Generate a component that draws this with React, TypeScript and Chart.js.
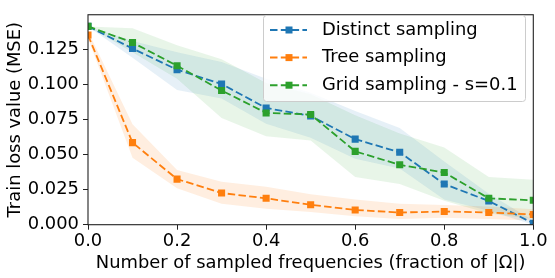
import React, { useEffect, useRef } from "react";
import { Chart, registerables } from "chart.js";

Chart.register(...registerables);

const fractions = [0, 0.1, 0.2, 0.3, 0.4, 0.5, 0.6, 0.7, 0.8, 0.9, 1.0];

const distinctMean = [0.1414, 0.1256, 0.1105, 0.1003, 0.0832, 0.0776, 0.061, 0.0516, 0.029, 0.0169, 0.001];
const distinctUpper = [0.1414, 0.131, 0.123, 0.116, 0.104, 0.094, 0.081, 0.069, 0.045, 0.022, 0.003];
const distinctLower = [0.1414, 0.119, 0.096, 0.09, 0.072, 0.062, 0.047, 0.04, 0.018, 0.01, 0.0];

const treeMean = [0.1352, 0.0585, 0.0325, 0.0226, 0.0188, 0.0142, 0.0105, 0.0087, 0.0094, 0.0087, 0.0073];
const treeUpper = [0.138, 0.0717, 0.039, 0.0306, 0.027, 0.0217, 0.018, 0.015, 0.014, 0.013, 0.011];
const treeLower = [0.133, 0.0477, 0.026, 0.015, 0.0114, 0.009, 0.006, 0.004, 0.005, 0.004, 0.003];

const gridMean = [0.1414, 0.1299, 0.1133, 0.0957, 0.0797, 0.0786, 0.0523, 0.0427, 0.0372, 0.0188, 0.0174];
const gridUpper = [0.1414, 0.14, 0.128, 0.118, 0.101, 0.093, 0.078, 0.065, 0.055, 0.034, 0.032];
const gridLower = [0.1414, 0.123, 0.104, 0.076, 0.063, 0.06, 0.034, 0.029, 0.017, 0.008, 0.004];

const seriesLabels = ["Distinct sampling", "Tree sampling", "Grid sampling - s=0.1"];
const seriesColors = ["#1f77b4", "#ff7f0e", "#2ca02c"];
const bandColors = ["rgba(31,119,180,0.11)", "rgba(255,127,14,0.13)", "rgba(44,160,44,0.11)"];

const xTicks = [0, 0.2, 0.4, 0.6, 0.8, 1.0];
const yTicks = [0, 0.025, 0.05, 0.075, 0.1, 0.125];

const xTitle = "Number of sampled frequencies (fraction of |Ω|)";
const yTitle = "Train loss value (MSE)";

const FONT = "'DejaVu Sans', sans-serif";
const FS = 17.9;

const pts = (ys: number[]) => fractions.map((x, i) => ({ x, y: ys[i] }));

const framePlugin = {
  id: "frameAndLegend",
  afterDraw(chart: any) {
    const ctx = chart.ctx;
    const a = chart.chartArea;
    ctx.save();
    ctx.strokeStyle = "#222";
    ctx.lineWidth = 1.1;
    ctx.strokeRect(a.left, a.top, a.right - a.left, a.bottom - a.top);

    // legend
    const bx = 263.5, by = 15.5, bw = 262, bh = 86, r = 3;
    ctx.beginPath();
    ctx.moveTo(bx + r, by);
    ctx.lineTo(bx + bw - r, by);
    ctx.quadraticCurveTo(bx + bw, by, bx + bw, by + r);
    ctx.lineTo(bx + bw, by + bh - r);
    ctx.quadraticCurveTo(bx + bw, by + bh, bx + bw - r, by + bh);
    ctx.lineTo(bx + r, by + bh);
    ctx.quadraticCurveTo(bx, by + bh, bx, by + bh - r);
    ctx.lineTo(bx, by + r);
    ctx.quadraticCurveTo(bx, by, bx + r, by);
    ctx.closePath();
    ctx.fillStyle = "rgba(255,255,255,0.8)";
    ctx.fill();
    ctx.strokeStyle = "#cccccc";
    ctx.lineWidth = 1;
    ctx.stroke();

    seriesLabels.forEach((label, i) => {
      const y = 30 + i * 27.6;
      ctx.strokeStyle = seriesColors[i];
      ctx.lineWidth = 2;
      ctx.setLineDash([7.5, 3.3]);
      ctx.beginPath();
      ctx.moveTo(270, y);
      ctx.lineTo(307, y);
      ctx.stroke();
      ctx.setLineDash([]);
      ctx.fillStyle = seriesColors[i];
      ctx.fillRect(289 - 3.5, y - 3.5, 7, 7);
      ctx.fillStyle = "#000";
      ctx.font = FS + "px " + FONT;
      ctx.textBaseline = "middle";
      ctx.textAlign = "left";
      ctx.fillText(label, 322, y);
    });
    ctx.restore();
  },
};

export default function App() {
  const ref = useRef<HTMLCanvasElement | null>(null);

  useEffect(() => {
    document.body.style.margin = "0";
    const canvas = ref.current;
    if (!canvas) return;

    const means = [distinctMean, treeMean, gridMean];
    const uppers = [distinctUpper, treeUpper, gridUpper];
    const lowers = [distinctLower, treeLower, gridLower];

    const datasets: any[] = [];
    for (let i = 0; i < 3; i++) {
      datasets.push({
        label: "upper" + i,
        data: pts(uppers[i]),
        borderWidth: 0,
        borderColor: "rgba(0,0,0,0)",
        pointRadius: 0,
        fill: false,
        order: 10,
      });
      datasets.push({
        label: "lower" + i,
        data: pts(lowers[i]),
        borderWidth: 0,
        borderColor: "rgba(0,0,0,0)",
        backgroundColor: bandColors[i],
        pointRadius: 0,
        fill: "-1",
        order: 10,
      });
    }
    const lineOrder = [3, 2, 1];
    for (let i = 0; i < 3; i++) {
      datasets.push({
        label: seriesLabels[i],
        data: pts(means[i]),
        borderColor: seriesColors[i],
        backgroundColor: seriesColors[i],
        borderWidth: 1.8,
        borderDash: [7.5, 3.3],
        pointStyle: "rect",
        pointRadius: 5,
        pointBorderWidth: 0,
        pointBackgroundColor: seriesColors[i],
        fill: false,
        clip: 0,
        order: lineOrder[i],
      });
    }

    const chart = new Chart(canvas, {
      type: "line",
      data: { datasets },
      options: {
        animation: false,
        responsive: false,
        maintainAspectRatio: false,
        layout: { padding: { top: 6, right: 21.7, left: 0, bottom: 0 } },
        plugins: {
          legend: { display: false },
          tooltip: { enabled: false },
          filler: { drawTime: "beforeDatasetsDraw" },
        } as any,
        scales: {
          x: {
            type: "linear",
            min: 0,
            max: 1,
            afterBuildTicks: (s: any) => {
              s.ticks = xTicks.map((v) => ({ value: v }));
            },
            afterFit: (s: any) => {
              s.height = 53.3;
            },
            grid: {
              display: true,
              drawOnChartArea: false,
              drawTicks: true,
              tickLength: 5,
              tickColor: "#222",
              tickWidth: 1,
            },
            border: { display: false },
            ticks: {
              autoSkip: false,
              maxRotation: 0,
              padding: 1,
              color: "#000",
              font: { family: FONT, size: FS },
              callback: (v: any) => Number(v).toFixed(1),
            },
            title: {
              display: true,
              text: xTitle,
              color: "#000",
              font: { family: FONT, size: FS },
              padding: { top: 0, bottom: 4.3 },
            },
          },
          y: {
            type: "linear",
            min: 0,
            max: 0.1497,
            afterBuildTicks: (s: any) => {
              s.ticks = yTicks.map((v) => ({ value: v }));
            },
            afterFit: (s: any) => {
              s.width = 88;
            },
            grid: {
              display: true,
              drawOnChartArea: false,
              drawTicks: true,
              tickLength: 5,
              tickColor: "#222",
              tickWidth: 1,
            },
            border: { display: false },
            ticks: {
              autoSkip: false,
              padding: 4,
              color: "#000",
              font: { family: FONT, size: FS },
              callback: (v: any) => Number(v).toFixed(3),
            },
            title: {
              display: true,
              text: yTitle,
              color: "#000",
              font: { family: FONT, size: FS },
              padding: { top: 4.5, bottom: 0 },
            },
          },
        },
      } as any,
      plugins: [framePlugin],
    });

    return () => chart.destroy();
  }, []);

  return (
    <div style={{ position: "absolute", left: 0, top: 0, width: 555, height: 278 }}>
      <canvas ref={ref} width={555} height={278} style={{ width: 555, height: 278, display: "block" }} />
    </div>
  );
}
